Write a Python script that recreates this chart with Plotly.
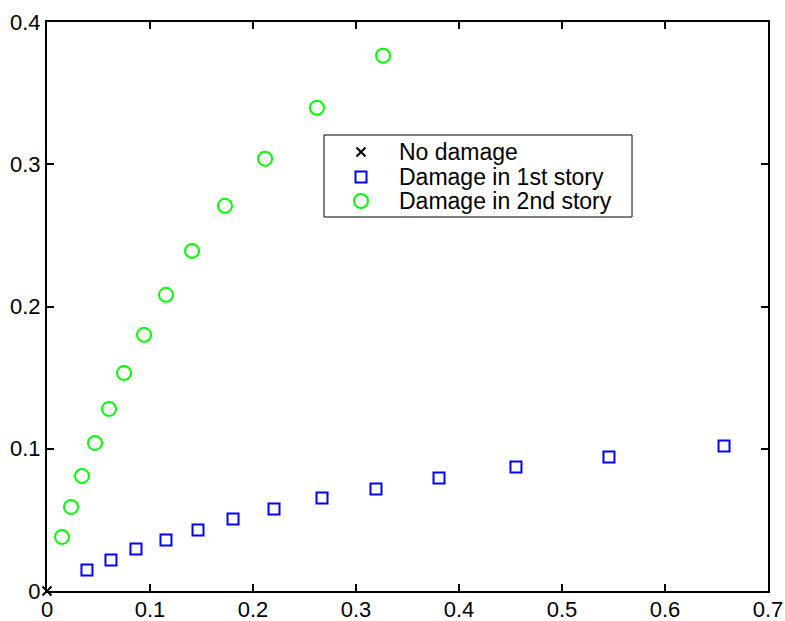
import plotly.graph_objects as go

# Undamaged reference state
intact_x = [0.0]
intact_y = [0.0]

# Damage located in the first story
story1_x = [0.0388, 0.0621, 0.0864, 0.1155, 0.1466, 0.1806, 0.2204,
            0.2670, 0.3194, 0.3806, 0.4553, 0.5456, 0.6573]
story1_y = [0.0148, 0.0218, 0.0295, 0.0359, 0.0429, 0.0506, 0.0577,
            0.0654, 0.0717, 0.0795, 0.0872, 0.0942, 0.1020]

# Damage located in the second story
story2_x = [0.0146, 0.0233, 0.0340, 0.0466, 0.0602, 0.0748, 0.0942,
            0.1155, 0.1408, 0.1728, 0.2117, 0.2621, 0.3262]
story2_y = [0.0380, 0.0591, 0.0809, 0.1041, 0.1280, 0.1533, 0.1801,
            0.2082, 0.2391, 0.2708, 0.3039, 0.3397, 0.3763]

series_names = ["No damage", "Damage in 1st story", "Damage in 2nd story"]

text_family = "Liberation Sans, Arial, sans-serif"

styles = [
    dict(symbol="x-thin", size=9, color="black",
         line=dict(color="black", width=2)),
    dict(symbol="square-open", size=11, color="#0000FF",
         line=dict(color="#0000FF", width=2)),
    dict(symbol="circle-open", size=14, color="#00FF00",
         line=dict(color="#00FF00", width=2)),
]
data = [(intact_x, intact_y), (story1_x, story1_y), (story2_x, story2_y)]

fig = go.Figure()
for (xs, ys), name, st in zip(data, series_names, styles):
    fig.add_trace(go.Scatter(
        x=xs, y=ys, mode="markers", name=name, marker=st,
        cliponaxis=False, showlegend=False,
    ))

# Compact key box drawn in plot-fraction coordinates (overlay axes 0..1)
box_x0, box_x1, box_y0, box_y1 = 0.3842, 0.8114, 0.6573, 0.8014
key_x, label_x = 0.4355, 0.4854
row_y = [0.7715, 0.7276, 0.6854]

fig.add_shape(type="rect", xref="paper", yref="paper",
              x0=box_x0, x1=box_x1, y0=box_y0, y1=box_y1,
              line=dict(color="black", width=1), fillcolor="white",
              layer="below")
for yk, name, st in zip(row_y, series_names, styles):
    fig.add_trace(go.Scatter(
        x=[key_x], y=[yk], xaxis="x2", yaxis="y2", mode="markers",
        marker=st, showlegend=False, hoverinfo="skip",
    ))
    fig.add_annotation(
        x=label_x, y=yk, xref="paper", yref="paper", text=name,
        showarrow=False, xanchor="left", yanchor="middle",
        font=dict(family=text_family, size=23, color="black"),
    )

axis_common = dict(
    showgrid=False, zeroline=False, showline=True, linecolor="black",
    linewidth=2, mirror="ticks", ticks="inside", ticklen=7, tickwidth=2,
    tickcolor="black", dtick=0.1, automargin=False,
    tickfont=dict(family=text_family, size=22, color="black"),
)

fig.update_layout(
    width=785, height=621,
    margin=dict(l=47, r=17, t=22, b=30),
    paper_bgcolor="white", plot_bgcolor="white",
    font=dict(family=text_family, color="black"),
    xaxis=dict(range=[0, 0.7], tick0=0, ticklabelstandoff=-2, **axis_common),
    yaxis=dict(range=[0, 0.4], tick0=0, **axis_common),
    xaxis2=dict(range=[0, 1], overlaying="x", visible=False, fixedrange=True),
    yaxis2=dict(range=[0, 1], overlaying="y", visible=False, fixedrange=True),
    showlegend=False,
)

fig.write_html("out.html")
